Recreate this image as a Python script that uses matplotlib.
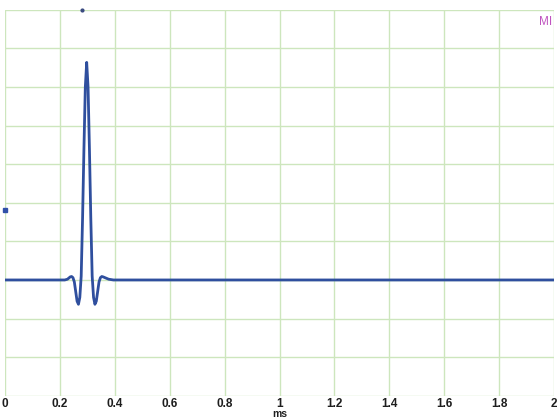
import matplotlib
matplotlib.use("Agg")
import matplotlib.pyplot as plt
import numpy as np

# waveform (time in ms, amplitude in grid divisions)
time_ms = [0.0, 0.20, 0.2175, 0.2275, 0.2325, 0.2375, 0.2425, 0.2475, 0.2525,
           0.2575, 0.2625, 0.2675, 0.2725, 0.2775, 0.2825, 0.2875, 0.2925,
           0.2975, 0.3025, 0.3075, 0.3125, 0.3175, 0.3225, 0.3275, 0.3325,
           0.3375, 0.3425, 0.3475, 0.3525, 0.3575, 0.3675, 0.3775, 0.395, 2.0]
amplitude = [0.0, 0.0, 0.0, 0.02, 0.05, 0.08, 0.09, 0.06, -0.05,
             -0.3, -0.55, -0.63, -0.45, 0.1, 1.6, 3.4, 5.0,
             5.64, 5.0, 3.4, 1.6, 0.1, -0.45, -0.63, -0.55,
             -0.3, -0.05, 0.06, 0.09, 0.08, 0.05, 0.02, 0.0, 0.0]

# trigger / level markers shown on the screen edges
trigger_time = [0.28]
trigger_level = [7.0]
level_time = [0.0]
level_value = [1.81]

x_ticks = [0, 0.2, 0.4, 0.6, 0.8, 1, 1.2, 1.4, 1.6, 1.8, 2]
y_grid = list(range(-3, 8))

grid_color = "#cde6bd"
trace_color = "#2f4f9e"
label_font = dict(fontweight="bold", family="Liberation Sans", color="#1e1e1e")

fig = plt.figure(figsize=(5.59, 4.18), dpi=100)
ax = fig.add_axes([0.009, 0.0533, 0.982, 0.923])

ax.plot(time_ms, amplitude, color=trace_color, lw=2.0, solid_joinstyle="round")
ax.plot(trigger_time, trigger_level, "o", color="#3a4a80", ms=2.0, clip_on=False)
ax.plot(level_time, level_value, "s", color="#3050a8", ms=3, clip_on=False)

ax.set_xlim(0, 2)
ax.set_ylim(-3, 7)
ax.set_xticks(x_ticks)
ax.set_xticklabels([f"{v:g}" for v in x_ticks], fontsize=8.5, **label_font)
ax.set_yticks(y_grid)
ax.set_yticklabels([])
ax.tick_params(length=0, pad=2)
ax.grid(True, color=grid_color, lw=1.0)
ax.set_axisbelow(True)
for s in ax.spines.values():
    s.set_visible(False)

ax.set_xlabel("ms", fontsize=7.5, labelpad=-1, **label_font)
ax.text(0.997, 0.985, "MI", transform=ax.transAxes, ha="right", va="top",
        fontsize=8.5, color="#c054c0", family="Liberation Sans")

fig.savefig("out.png", dpi=100)
